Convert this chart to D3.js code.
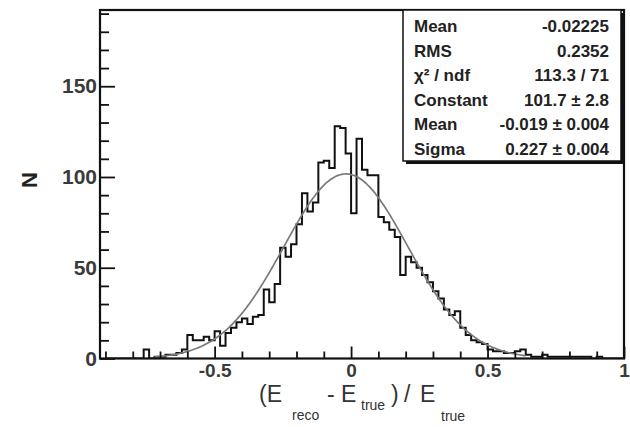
<!DOCTYPE html>
<html>
<head>
<meta charset="utf-8">
<script src="https://cdn.jsdelivr.net/npm/d3@7"></script>
<style>
  html, body { margin: 0; padding: 0; background: #fff; }
  svg { display: block; font-family: "Liberation Sans", Arial, sans-serif; }
</style>
</head>
<body>
<div id="chart"></div>
<script>
// Resolution histogram (E_reco - E_true)/E_true with gaussian fit

// histogram binning: 0.02 wide bins starting at -0.90
const binStart = -0.9;
const binWidth = 0.02;
const counts = [
  0, 0, 0, 0, 0, 0, 0, 5, 0, 1,          // -0.90 .. -0.72
  1, 2, 2, 3, 5, 13, 10, 10, 12, 10,     // -0.70 .. -0.52
  15, 7, 14, 17, 20, 22, 19, 23, 24, 38, // -0.50 .. -0.32
  31, 41, 61, 56, 63, 74, 91, 81, 86, 108, // -0.30 .. -0.12
  109, 105, 128, 127, 113, 80, 121, 104, 101, 101, // -0.10 .. 0.08
  78, 75, 71, 67, 46, 56, 53, 50, 46, 42, // 0.10 .. 0.28
  37, 33, 27, 24, 26, 17, 13, 10, 9, 8,  // 0.30 .. 0.48
  5, 4, 4, 3, 3, 4, 5, 2, 1, 1,          // 0.50 .. 0.68
  2, 1, 1, 1, 1, 1, 1, 1, 1, 0,          // 0.70 .. 0.88
  1, 0, 0, 0, 0                          // 0.90 .. 0.98
];

// gaussian fit parameters
const fitConstant = 101.7;
const fitMean = -0.019;
const fitSigma = 0.227;
const fitRange = [-0.72, 0.64];

// axes
const xDomain = [-0.92, 1.0];
const yDomain = [0, 192];
const xMajorTicks = [-0.5, 0, 0.5, 1];
const xTickLabels = ["-0.5", "0", "0.5", "1"];
const xMinorTicks = [-0.9, -0.8, -0.7, -0.6, -0.4, -0.3, -0.2, -0.1, 0.1, 0.2, 0.3, 0.4, 0.6, 0.7, 0.8, 0.9];
const yMajorTicks = [0, 50, 100, 150];
const yMinorTicks = [10, 20, 30, 40, 60, 70, 80, 90, 110, 120, 130, 140, 160, 170, 180, 190];

// stats box
const statNames = ["Mean", "RMS", "\u03c7\u00b2 / ndf", "Constant", "Mean", "Sigma"];
const statValues = ["-0.02225", "0.2352", "113.3 / 71", "101.7 \u00b1 2.8", "-0.019 \u00b1 0.004", "0.227 \u00b1 0.004"];

const width = 630;
const height = 427;
const margin = { top: 10, right: 6, bottom: 68.5, left: 100 };

const svg = d3.select("#chart")
  .append("svg")
  .attr("width", width)
  .attr("height", height);

const x = d3.scaleLinear()
  .domain(xDomain)
  .range([margin.left, width - margin.right]);

const y = d3.scaleLinear()
  .domain(yDomain)
  .range([height - margin.bottom, margin.top]);

svg.append("clipPath")
  .attr("id", "plot-clip")
  .append("rect")
  .attr("x", margin.left)
  .attr("y", margin.top)
  .attr("width", width - margin.left - margin.right)
  .attr("height", height - margin.top - margin.bottom);

// histogram outline as steps
const stepPts = [[binStart, 0]];
counts.forEach((c, i) => {
  const x0 = binStart + i * binWidth;
  stepPts.push([x0, c], [x0 + binWidth, c]);
});
stepPts.push([binStart + counts.length * binWidth, 0]);

const line = d3.line()
  .x(d => x(d[0]))
  .y(d => y(d[1]));

svg.append("path")
  .attr("clip-path", "url(#plot-clip)")
  .attr("d", line(stepPts))
  .attr("fill", "none")
  .attr("stroke", "#111")
  .attr("stroke-width", 2)
  .attr("stroke-linejoin", "miter");

// fit curve
const gauss = v => fitConstant * Math.exp(-0.5 * Math.pow((v - fitMean) / fitSigma, 2));
const fitPts = d3.range(fitRange[0], fitRange[1] + 1e-9, 0.005).map(v => [v, gauss(v)]);

svg.append("path")
  .attr("d", line.curve(d3.curveBasis)(fitPts))
  .attr("fill", "none")
  .attr("stroke", "#7a7a7a")
  .attr("stroke-width", 1.7);

// axes (ticks drawn inward like ROOT)
const tickFont = size => g => g.selectAll("text")
  .attr("font-size", size)
  .attr("font-weight", "bold")
  .attr("fill", "#3a3a3a")
  .attr("font-family", "'Liberation Sans', Arial, sans-serif");

svg.append("g")
  .attr("transform", `translate(0,${y(0)})`)
  .call(d3.axisBottom(x).tickValues(xMinorTicks).tickSize(-7).tickFormat(""))
  .call(g => g.select(".domain").remove())
  .call(g => g.selectAll("line").attr("stroke", "#111").attr("stroke-width", 1.8));

svg.append("g")
  .attr("transform", `translate(0,${y(0)})`)
  .call(d3.axisBottom(x).tickValues(xMajorTicks).tickSize(-12).tickPadding(5)
    .tickFormat((d, i) => xTickLabels[i]))
  .call(g => g.select(".domain").remove())
  .call(g => g.selectAll("line").attr("stroke", "#111").attr("stroke-width", 1.8))
  .call(tickFont(19));

svg.append("g")
  .attr("transform", `translate(${x(xDomain[0])},0)`)
  .call(d3.axisLeft(y).tickValues(yMinorTicks).tickSize(-9).tickFormat(""))
  .call(g => g.select(".domain").remove())
  .call(g => g.selectAll("line").attr("stroke", "#111").attr("stroke-width", 1.8));

svg.append("g")
  .attr("transform", `translate(${x(xDomain[0])},0)`)
  .call(d3.axisLeft(y).tickValues(yMajorTicks).tickSize(-15).tickPadding(3))
  .call(g => g.select(".domain").remove())
  .call(g => g.selectAll("line").attr("stroke", "#111").attr("stroke-width", 1.8))
  .call(tickFont(21));

// frame
svg.append("rect")
  .attr("x", x(xDomain[0]))
  .attr("y", y(yDomain[1]))
  .attr("width", x(xDomain[1]) - x(xDomain[0]))
  .attr("height", y(0) - y(yDomain[1]))
  .attr("fill", "none")
  .attr("stroke", "#111")
  .attr("stroke-width", 2.2);

// axis titles
svg.append("text")
  .attr("transform", "translate(37,180) rotate(-90)")
  .attr("text-anchor", "middle")
  .attr("font-size", 22)
  .attr("font-weight", "bold")
  .attr("fill", "#222")
  .text("N");

// x title pieces, ROOT-like sub/superscript placement
const titleParts = [
  { t: "(E", x: 259, y: 402, s: 23 },
  { t: "reco", x: 292, y: 420, s: 14 },
  { t: "- E", x: 327, y: 402, s: 23 },
  { t: "true", x: 361, y: 410, s: 14 },
  { t: ")", x: 391, y: 402, s: 23 },
  { t: "/", x: 404, y: 402, s: 23 },
  { t: "E", x: 420, y: 402, s: 23 },
  { t: "true", x: 441, y: 421, s: 14 }
];
svg.append("g")
  .attr("fill", "#333")
  .selectAll("text")
  .data(titleParts)
  .join("text")
  .attr("x", d => d.x)
  .attr("y", d => d.y)
  .attr("font-size", d => d.s)
  .text(d => d.t);

// stats box
const box = { x0: 403, y0: 10, x1: 621, y1: 161 };
svg.append("rect")
  .attr("x", box.x0 + 3)
  .attr("y", box.y0 + 3)
  .attr("width", box.x1 - box.x0)
  .attr("height", box.y1 - box.y0)
  .attr("fill", "#111");
svg.append("rect")
  .attr("x", box.x0)
  .attr("y", box.y0)
  .attr("width", box.x1 - box.x0)
  .attr("height", box.y1 - box.y0)
  .attr("fill", "#fff")
  .attr("stroke", "#111")
  .attr("stroke-width", 1.5);

const rowY = i => 26 + i * 24.6;
const stats = svg.append("g")
  .attr("font-size", 17)
  .attr("font-weight", "bold")
  .attr("fill", "#222");

statNames.forEach((name, i) => {
  stats.append("text")
    .attr("x", 414)
    .attr("y", rowY(i))
    .attr("dy", "0.35em")
    .text(name);
  stats.append("text")
    .attr("x", 609)
    .attr("y", rowY(i))
    .attr("dy", "0.35em")
    .attr("text-anchor", "end")
    .text(statValues[i]);
});
</script>
</body>
</html>
